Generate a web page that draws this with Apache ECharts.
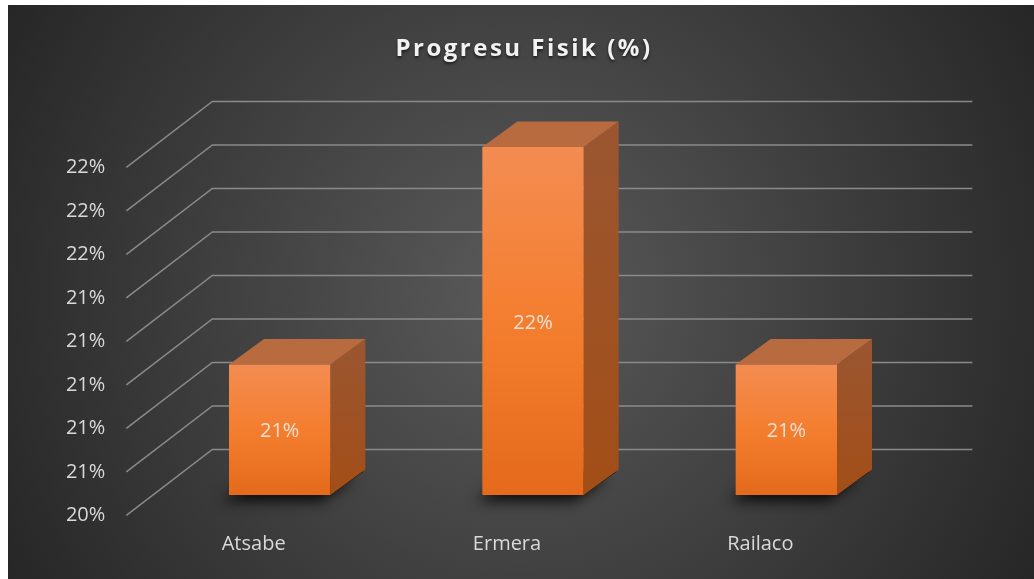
<!DOCTYPE html>
<html>
<head>
<meta charset="utf-8">
<script src="https://cdn.jsdelivr.net/npm/echarts@6/dist/echarts.min.js"></script>
<style>
  html, body { margin: 0; padding: 0; background: #fff; }
  #main { position: absolute; left: 8px; top: 5px; width: 1026px; height: 574px; }
  #title {
    position: absolute; left: 11px; top: 30px; width: 1026px; height: 30px;
    line-height: 30px; text-align: center; color: #f2f2f2;
    font: bold 24px "Open Sans", sans-serif; letter-spacing: 2.5px;
    text-shadow: 0 2px 3px rgba(0,0,0,0.6); pointer-events: none;
  }
</style>
</head>
<body>
<div id="main"></div>
<div id="title">Progresu Fisik (%)</div>
<script>
// chart data
const categories = ['Atsabe', 'Ermera', 'Railaco'];
const progress = [21.0, 22.0, 21.0];
const tickValues = [20.4, 20.6, 20.8, 21.0, 21.2, 21.4, 21.6, 21.8, 22.0];
const yMin = 20.4;
const yMax = 22.0;
const yStep = 0.2;

// fake 3d depth (pixels)
const depth = [86, -66];
const frontShift = 0.31; // where the bars stand inside the depth
const barDepth = [35, -25.5];

const pct = v => Math.round(v) + '%';

const chartDom = document.getElementById('main');
const myChart = echarts.init(chartDom);

const option = {
  animation: false,
  backgroundColor: {
    type: 'radial', x: 0.5, y: 0.5, r: 1.05,
    colorStops: [
      { offset: 0, color: '#5a5a5a' },
      { offset: 1, color: '#252525' }
    ]
  },
  grid: { left: 145, right: 121, top: 142, bottom: 84 },
  xAxis: {
    type: 'category',
    data: categories,
    axisLine: { show: false },
    axisTick: { show: false },
    axisLabel: {
      color: '#d9d9d9', fontSize: 20, fontFamily: 'Open Sans',
      margin: 39, padding: [0, 52, 0, 0]
    }
  },
  yAxis: {
    type: 'value',
    min: yMin, max: yMax, interval: yStep,
    axisLine: { show: false },
    axisTick: { show: false },
    splitLine: { show: false },
    axisLabel: { show: false }
  },
  series: [
    {
      // walls: one bent line per tick, with its label at the front end
      type: 'custom',
      silent: true,
      z: 1,
      data: tickValues.map(v => [0, v]),
      encode: { x: 0, y: 1 },
      renderItem: (params, api) => {
        const cs = params.coordSys;
        const v = api.value(1);
        const y = api.coord([0, v])[1];
        const fx = cs.x - depth[0] * frontShift, fy = y - depth[1] * frontShift;
        const bx = fx + depth[0], by = fy + depth[1];
        return {
          type: 'group',
          children: [
            {
              type: 'polyline',
              shape: { points: [[fx, fy], [bx, by], [cs.x + cs.width - depth[0] * frontShift + depth[0], by]] },
              style: { stroke: '#8a8a8a', lineWidth: 1.5, fill: null }
            },
            {
              type: 'text',
              x: fx - 21, y: fy,
              style: {
                text: pct(v), fill: '#d9d9d9', font: '20px "Open Sans"',
                align: 'right', verticalAlign: 'middle'
              }
            }
          ]
        };
      }
    },
    {
      type: 'custom',
      silent: true,
      z: 2,
      data: progress.map((v, i) => [i, v]),
      encode: { x: 0, y: 1 },
      renderItem: (params, api) => {
        const v = api.value(1);
        const top = api.coord([api.value(0), v]);
        const base = api.coord([api.value(0), yMin]);
        const bw = api.size([1, 0])[0] * 0.4;
        const l = top[0] - bw / 2, r = l + bw;
        const t = top[1], b = base[1];
        const dx = barDepth[0], dy = barDepth[1];
        return {
          type: 'group',
          children: [
            {
              // footprint, only its soft shadow shows
              type: 'polygon',
              shape: { points: [[l + 2, b], [r, b], [r + dx - 2, b + dy + 2], [l + dx, b + dy + 2]] },
              style: { fill: 'rgba(0,0,0,0.9)', shadowBlur: 14, shadowColor: 'rgba(0,0,0,0.95)', shadowOffsetX: -9, shadowOffsetY: 6 }
            },
            {
              type: 'polygon',
              shape: { points: [[r, t], [r + dx, t + dy], [r + dx, b + dy], [r, b]] },
              style: {
                fill: new echarts.graphic.LinearGradient(0, 0, 0, 1, [
                  { offset: 0, color: '#9a5631' },
                  { offset: 1, color: '#a34e17' }
                ])
              }
            },
            {
              type: 'polygon',
              shape: { points: [[l, t], [r, t], [r + dx, t + dy], [l + dx, t + dy]] },
              style: { fill: '#b76b3e' }
            },
            {
              type: 'rect',
              shape: { x: l, y: t, width: bw, height: b - t },
              style: {
                fill: new echarts.graphic.LinearGradient(0, 0, 0, 1, [
                  { offset: 0, color: '#f38c52' },
                  { offset: 0.5, color: '#f47e2f' },
                  { offset: 1, color: '#e56a1b' }
                ])
              }
            },
            {
              type: 'text',
              x: (l + r) / 2, y: (t + b) / 2 + 2,
              style: {
                text: pct(v), fill: 'rgba(240,235,230,0.9)',
                font: '20px "Open Sans"', align: 'center', verticalAlign: 'middle'
              }
            }
          ]
        };
      }
    }
  ]
};

option && myChart.setOption(option);
</script>
</body>
</html>
